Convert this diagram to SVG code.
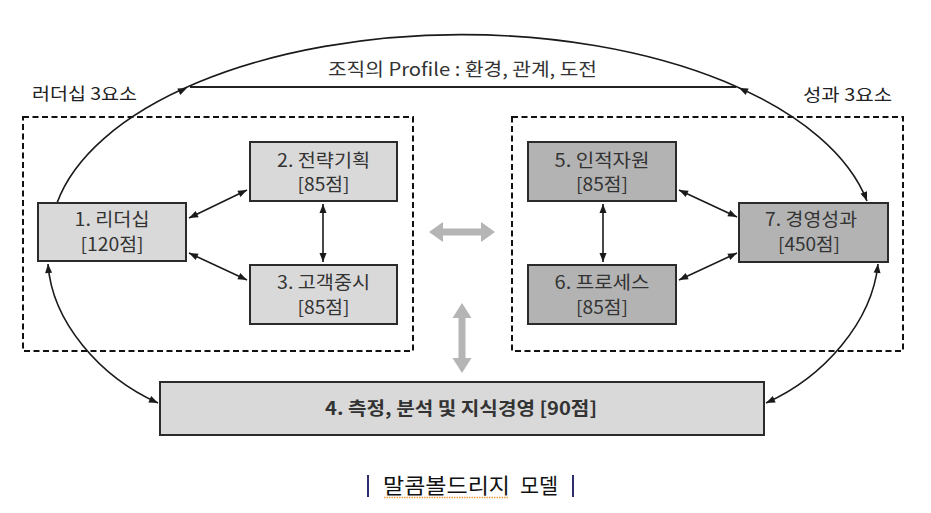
<svg xmlns="http://www.w3.org/2000/svg" width="931" height="513" viewBox="0 0 931 513">
<style>
.t{font-family:"Noto Sans CJK KR","Noto Sans",sans-serif;fill:#333;font-size:18px;text-anchor:middle}
.lbl{font-family:"Noto Sans CJK KR","Noto Sans",sans-serif;fill:#222;font-size:17px}
.cap{font-family:"Noto Sans CJK KR","Noto Sans",sans-serif;fill:#111;font-size:21px}
.n1{fill:#d9d9d9;stroke:#2b2b2b;stroke-width:2}
.n2{fill:#b3b3b3;stroke:#2b2b2b;stroke-width:2}
.dash{fill:none;stroke:#111;stroke-width:2;stroke-dasharray:6 3.5}
.c{fill:none;stroke:#1a1a1a;stroke-width:1.6}
.g{fill:#b5b5b5}
</style>
<defs>
<marker id="ah" viewBox="-10 -5 10 10" refX="0" refY="0" markerWidth="10" markerHeight="10" markerUnits="userSpaceOnUse" orient="auto-start-reverse">
<path d="M0,0 L-9,-3.5 L-9,3.5 Z" fill="#1a1a1a"/>
</marker>
</defs>
<rect width="931" height="513" fill="#fff"/>

<g id="groups">
<rect class="dash" x="23" y="117" width="390" height="234"/>
<rect class="dash" x="512" y="117" width="391" height="234"/>
<text class="lbl" x="32" y="100" textLength="105" lengthAdjust="spacingAndGlyphs">러더십 3요소</text>
<text class="lbl" x="803" y="101" textLength="89" lengthAdjust="spacingAndGlyphs">성과 3요소</text>
</g>

<g id="profile">
<line x1="190" y1="87" x2="736" y2="87" stroke="#222" stroke-width="2"/>
<text class="t" x="462.5" y="76" fill="#222" textLength="269" lengthAdjust="spacingAndGlyphs">조직의 Profile : 환경, 관계, 도전</text>
</g>

<g id="connectors">
<path class="c" d="M57,203 A412,205 0 0,1 867,201" marker-end="url(#ah)"/>
<path d="M0,0 L-9,-3.5 L-9,3.5 Z" fill="#1a1a1a" transform="translate(187,88) rotate(-24.6)"/>
<path d="M0,0 L-9,-3.5 L-9,3.5 Z" fill="#1a1a1a" transform="translate(739,88) rotate(-155.2)"/>
<line class="c" x1="189" y1="218" x2="247" y2="190" marker-start="url(#ah)" marker-end="url(#ah)"/>
<line class="c" x1="189" y1="253" x2="247" y2="280" marker-start="url(#ah)" marker-end="url(#ah)"/>
<line class="c" x1="323" y1="204" x2="323" y2="262" marker-start="url(#ah)" marker-end="url(#ah)"/>
<line class="c" x1="679" y1="190" x2="737" y2="217" marker-start="url(#ah)" marker-end="url(#ah)"/>
<line class="c" x1="679" y1="280" x2="737" y2="253" marker-start="url(#ah)" marker-end="url(#ah)"/>
<line class="c" x1="603" y1="204" x2="603" y2="262" marker-start="url(#ah)" marker-end="url(#ah)"/>
<path class="c" d="M48,264 C52,322 100,377 158,403" marker-start="url(#ah)" marker-end="url(#ah)"/>
<path class="c" d="M766,403 C824,377 872,322 878,264" marker-start="url(#ah)" marker-end="url(#ah)"/>
<polygon class="g" points="429,232 443,222 443,228.5 481,228.5 481,222 495,232 481,242 481,235.5 443,235.5 443,242"/>
<polygon class="g" points="462,303 471.5,318 465.5,318 465.5,358 471.5,358 462,373 452.5,358 458.5,358 458.5,318 452.5,318"/>
</g>

<g id="node1">
<rect class="n1" x="38" y="203" width="148" height="58"/>
<text class="t" x="112" y="226" textLength="75" lengthAdjust="spacingAndGlyphs">1. 리더십</text>
<text class="t" x="112" y="251" textLength="63" lengthAdjust="spacingAndGlyphs">[120점]</text>
</g>
<g id="node2">
<rect class="n1" x="250" y="142" width="147" height="59"/>
<text class="t" x="323.5" y="166.5" textLength="93" lengthAdjust="spacingAndGlyphs">2. 전략기획</text>
<text class="t" x="323.5" y="191" textLength="52" lengthAdjust="spacingAndGlyphs">[85점]</text>
</g>
<g id="node3">
<rect class="n1" x="250" y="265" width="147" height="59"/>
<text class="t" x="323.5" y="289" textLength="93" lengthAdjust="spacingAndGlyphs">3. 고객중시</text>
<text class="t" x="323.5" y="314" textLength="52" lengthAdjust="spacingAndGlyphs">[85점]</text>
</g>
<g id="node5">
<rect class="n2" x="528" y="142" width="148" height="59"/>
<text class="t" x="602" y="166.5" textLength="95" lengthAdjust="spacingAndGlyphs">5. 인적자원</text>
<text class="t" x="602" y="191" textLength="52" lengthAdjust="spacingAndGlyphs">[85점]</text>
</g>
<g id="node6">
<rect class="n2" x="528" y="265" width="148" height="59"/>
<text class="t" x="602" y="289" textLength="95" lengthAdjust="spacingAndGlyphs">6. 프로세스</text>
<text class="t" x="602" y="314" textLength="52" lengthAdjust="spacingAndGlyphs">[85점]</text>
</g>
<g id="node7">
<rect class="n2" x="739" y="203" width="149" height="59"/>
<text class="t" x="811" y="226" textLength="92" lengthAdjust="spacingAndGlyphs">7. 경영성과</text>
<text class="t" x="809" y="251" textLength="62" lengthAdjust="spacingAndGlyphs">[450점]</text>
</g>
<g id="node4">
<rect class="n1" x="160" y="382" width="604" height="53"/>
<text class="t" x="461" y="415" font-weight="bold" fill="#2a2a2a" textLength="272" lengthAdjust="spacingAndGlyphs">4. 측정, 분석 및 지식경영 [90점]</text>
</g>

<g id="caption">
<line x1="368" y1="475" x2="368" y2="497" stroke="#2e2e6e" stroke-width="2"/>
<line x1="573" y1="475" x2="573" y2="497" stroke="#2e2e6e" stroke-width="2"/>
<text class="cap" x="383" y="493" textLength="127" lengthAdjust="spacingAndGlyphs">말콤볼드리지</text>
<text class="cap" x="520" y="493" textLength="38" lengthAdjust="spacingAndGlyphs">모델</text>
<line x1="384" y1="497.5" x2="509" y2="497.5" stroke="#f0a040" stroke-width="1.5" stroke-dasharray="1.5 1"/>
</g>
</svg>
